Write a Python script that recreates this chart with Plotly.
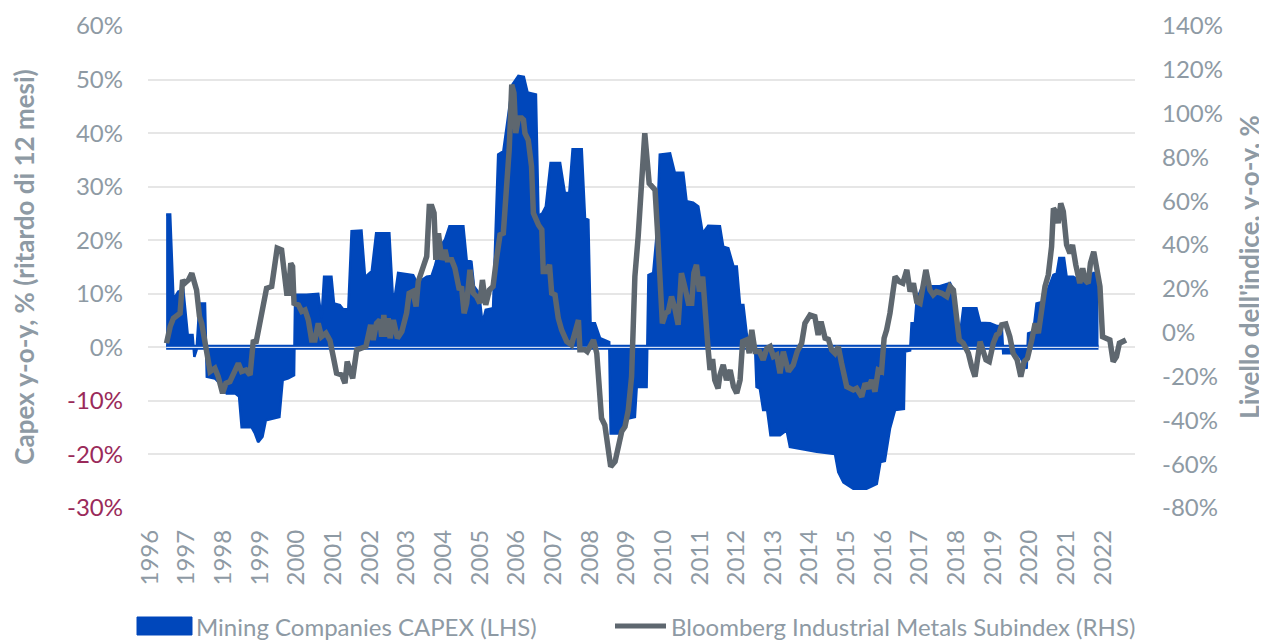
import plotly.graph_objects as go

# ---------------- data (decimal years) ----------------
capex_t = [1996.44, 1996.55, 1996.64, 1996.77, 1996.91, 1997.03, 1997.16, 1997.21, 1997.27, 1997.35,
           1997.50, 1997.55, 1997.77, 1997.91, 1998.09, 1998.32, 1998.43, 1998.50, 1998.77, 1998.86,
           1998.95, 1999.07, 1999.16, 1999.53, 1999.62, 1999.77, 1999.93, 1999.96, 2000.27, 2000.59,
           2000.68, 2000.75, 2000.95, 2001.02, 2001.18, 2001.27, 2001.41, 2001.50, 2001.77, 2001.87,
           2001.93, 2002.05, 2002.17, 2002.53, 2002.62, 2002.68, 2002.77, 2003.18, 2003.29, 2003.41,
           2003.55, 2003.68, 2003.77, 2003.91, 2004.05, 2004.17, 2004.55, 2004.64, 2004.77, 2004.84,
           2004.98, 2005.07, 2005.16, 2005.36, 2005.50, 2005.64, 2005.77, 2005.89, 2006.05, 2006.20,
           2006.30, 2006.53, 2006.60, 2006.71, 2006.80, 2006.93, 2007.19, 2007.32, 2007.44, 2007.53,
           2007.78, 2007.87, 2007.96, 2008.02, 2008.14, 2008.28, 2008.53, 2008.57, 2008.82, 2008.91,
           2009.05, 2009.23, 2009.28, 2009.55, 2009.60, 2009.73, 2009.82, 2009.91, 2010.19, 2010.32,
           2010.55, 2010.64, 2010.82, 2010.96, 2011.08, 2011.23, 2011.55, 2011.64, 2011.78, 2011.92,
           2012.01, 2012.10, 2012.19, 2012.28, 2012.37, 2012.51, 2012.55, 2012.64, 2012.73, 2012.84,
           2012.93, 2013.19, 2013.37, 2013.46, 2013.92, 2014.19, 2014.69, 2014.78, 2014.92, 2015.19,
           2015.55, 2015.83, 2015.93, 2016.05, 2016.19, 2016.33, 2016.57, 2016.60, 2016.74, 2016.78,
           2016.87, 2016.92, 2017.03, 2017.19, 2017.55, 2017.69, 2017.83, 2017.92, 2018.01, 2018.10,
           2018.19, 2018.55, 2018.65, 2018.92, 2019.10, 2019.24, 2019.28, 2019.65, 2019.74, 2019.92,
           2019.96, 2020.10, 2020.19, 2020.37, 2020.51, 2020.65, 2020.74, 2020.81, 2020.94, 2021.01,
           2021.19, 2021.33, 2021.65, 2021.74, 2021.88]
capex_v = [24.8, 24.8, 8.9, 10.4, 10.7, 2.3, 2.3, -1.8, -0.5, 8.2,
           8.2, -5.5, -5.8, -6.8, -8.6, -8.6, -9.2, -14.9, -14.9, -16.0,
           -17.7, -16.7, -13.6, -13.0, -6.1, -5.8, -5.2, 9.8, 9.8, 10.0,
           5.4, 13.2, 13.2, 8.2, 7.9, 7.1, 7.1, 21.7, 21.8, 12.9,
           13.5, 14.2, 21.3, 21.3, 10.1, 9.5, 13.9, 13.5, 12.0, 12.6,
           13.2, 13.3, 15.1, 18.8, 20.1, 22.6, 22.6, 16.3, 16.0, 11.4,
           10.1, 4.5, 7.0, 7.3, 36.0, 36.6, 43.2, 49.1, 50.7, 50.5,
           47.6, 47.2, 24.5, 25.1, 26.3, 34.4, 34.4, 28.8, 28.8, 37.0,
           37.0, 24.1, 23.8, 4.5, 4.5, 1.7, 1.0, -16.1, -16.1, -14.9,
           -13.3, -13.0, -7.4, -7.4, 13.5, 13.9, 20.7, 36.0, 36.2, 32.6,
           32.6, 27.3, 27.0, 26.3, 21.3, 22.7, 22.6, 18.8, 18.5, 15.1,
           15.1, 7.9, 7.9, 2.6, 0.7, -0.2, -7.4, -7.7, -11.7, -11.7,
           -16.4, -16.4, -15.5, -18.6, -19.2, -19.5, -19.9, -23.3, -25.2, -26.4,
           -26.4, -25.5, -21.4, -21.2, -15.2, -11.7, -11.5, -0.8, -0.6, 4.5,
           4.5, 8.9, 10.7, 11.4, 11.4, 11.7, 12.0, 10.7, 3.9, 2.3,
           7.3, 7.3, 4.6, 4.5, 4.0, 4.0, -1.1, -1.1, -1.8, -4.0,
           2.6, 2.9, 8.2, 8.5, 11.0, 13.5, 13.8, 16.7, 16.7, 13.2,
           13.2, 12.6, 12.6, 13.9, 13.9]

metals_t = [1996.45, 1996.55, 1996.64, 1996.82, 1996.89, 1996.95, 1997.05, 1997.14, 1997.27, 1997.35,
            1997.41, 1997.55, 1997.64, 1997.77, 1997.86, 1997.98, 1998.07, 1998.18, 1998.41, 1998.50,
            1998.62, 1998.73, 1998.82, 1998.89, 1998.98, 1999.18, 1999.32, 1999.47, 1999.59, 1999.73,
            1999.78, 1999.84, 1999.89, 1999.93, 2000.05, 2000.14, 2000.23, 2000.32, 2000.41, 2000.50,
            2000.59, 2000.68, 2000.80, 2000.91, 2001.00, 2001.09, 2001.23, 2001.32, 2001.38, 2001.46,
            2001.53, 2001.64, 2001.77, 2001.89, 2002.02, 2002.09, 2002.18, 2002.27, 2002.32, 2002.38,
            2002.44, 2002.50, 2002.55, 2002.64, 2002.75, 2002.87, 2003.00, 2003.07, 2003.17, 2003.26,
            2003.32, 2003.46, 2003.55, 2003.62, 2003.69, 2003.75, 2003.80, 2003.87, 2003.96, 2004.05,
            2004.11, 2004.23, 2004.32, 2004.44, 2004.50, 2004.57, 2004.64, 2004.73, 2004.82, 2004.91,
            2005.00, 2005.07, 2005.16, 2005.26, 2005.36, 2005.45, 2005.55, 2005.64, 2005.73, 2005.80,
            2005.87, 2005.93, 2005.98, 2006.05, 2006.14, 2006.19, 2006.23, 2006.32, 2006.41, 2006.46,
            2006.60, 2006.69, 2006.73, 2006.82, 2006.90, 2006.96, 2007.05, 2007.14, 2007.23, 2007.37,
            2007.50, 2007.57, 2007.69, 2007.73, 2007.87, 2007.93, 2008.10, 2008.19, 2008.28, 2008.32,
            2008.41, 2008.48, 2008.57, 2008.69, 2008.78, 2008.87, 2008.96, 2009.05, 2009.14, 2009.23,
            2009.32, 2009.41, 2009.50, 2009.62, 2009.71, 2009.78, 2009.84, 2009.91, 2009.98, 2010.07,
            2010.14, 2010.23, 2010.32, 2010.41, 2010.50, 2010.59, 2010.69, 2010.78, 2010.84, 2010.91,
            2010.99, 2011.08, 2011.14, 2011.23, 2011.28, 2011.35, 2011.41, 2011.50, 2011.55, 2011.64,
            2011.73, 2011.83, 2011.92, 2012.01, 2012.10, 2012.17, 2012.28, 2012.35, 2012.42, 2012.51,
            2012.63, 2012.73, 2012.83, 2012.92, 2013.01, 2013.10, 2013.19, 2013.28, 2013.42, 2013.55,
            2013.66, 2013.78, 2013.87, 2014.01, 2014.14, 2014.23, 2014.31, 2014.42, 2014.51, 2014.60,
            2014.69, 2014.78, 2014.87, 2015.01, 2015.10, 2015.19, 2015.28, 2015.42, 2015.51, 2015.60,
            2015.69, 2015.78, 2015.87, 2015.96, 2016.03, 2016.10, 2016.19, 2016.33, 2016.44, 2016.54,
            2016.65, 2016.74, 2016.83, 2016.92, 2017.01, 2017.10, 2017.17, 2017.28, 2017.37, 2017.46,
            2017.60, 2017.74, 2017.83, 2017.92, 2018.01, 2018.08, 2018.19, 2018.33, 2018.42, 2018.51,
            2018.65, 2018.74, 2018.81, 2018.90, 2019.01, 2019.10, 2019.17, 2019.24, 2019.35, 2019.46,
            2019.55, 2019.66, 2019.76, 2019.85, 2019.94, 2020.06, 2020.15, 2020.24, 2020.33, 2020.42,
            2020.51, 2020.60, 2020.65, 2020.71, 2020.78, 2020.85, 2020.92, 2021.01, 2021.10, 2021.17,
            2021.26, 2021.37, 2021.45, 2021.51, 2021.60, 2021.66, 2021.75, 2021.85, 2021.92, 2021.99,
            2022.10, 2022.19, 2022.28, 2022.37, 2022.45, 2022.54, 2022.63]
metals_v = [-4.8, 2.8, 6.6, 8.9, 24.1, 22.6, 24.1, 27.2, 19.5, 7.4,
            4.3, -9.4, -17.7, -16.2, -20.0, -27.6, -23.1, -22.3, -14.0, -17.7,
            -17.0, -19.3, -3.3, -4.8, 2.8, 20.3, 21.1, 38.6, 37.8, 18.0,
            18.0, 31.7, 30.2, 13.4, 12.7, 9.7, 10.4, 5.8, -3.3, -3.3,
            4.3, -1.8, -0.2, -3.5, -10.9, -18.5, -19.3, -23.0, -13.2, -17.0,
            -20.8, -7.8, -7.1, -6.3, 3.6, -3.3, 4.3, 5.8, -1.8, 8.1,
            -1.8, 6.6, -2.5, 5.8, -2.5, 0.5, 8.9, 18.0, 18.8, 12.0,
            23.4, 30.2, 34.8, 57.6, 57.6, 54.6, 33.3, 45.4, 33.3, 37.8,
            33.3, 33.3, 29.4, 19.5, 21.1, 8.9, 13.5, 28.7, 18.0, 16.5,
            13.5, 24.1, 12.7, 19.5, 21.1, 33.3, 44.7, 45.4, 63.7, 83.5,
            113.2, 109.4, 91.1, 98.0, 98.0, 97.2, 91.1, 88.0, 75.9, 54.6,
            49.2, 47.0, 27.9, 27.9, 31.0, 18.0, 17.3, 6.6, 1.3, -4.0,
            -5.6, -1.8, 5.8, -7.8, -7.8, -8.6, -3.3, -9.4, -27.6, -39.0,
            -42.1, -50.5, -61.1, -58.8, -52.0, -45.1, -42.9, -35.3, -20.0, 25.6,
            43.9, 68.2, 91.1, 68.2, 66.7, 65.2, 48.5, 28.7, 4.3, 8.9,
            9.7, 16.5, 11.2, 3.6, 27.2, 21.1, 13.5, 13.5, 27.2, 31.0,
            18.8, 25.6, 8.9, -7.8, -17.0, -12.0, -21.6, -25.4, -19.3, -14.7,
            -21.6, -17.0, -24.6, -27.6, -21.6, -4.1, -3.3, -9.4, 1.3, -8.6,
            -8.6, -12.4, -7.1, -6.3, -10.9, -10.1, -18.5, -8.6, -17.7, -14.7,
            -8.6, -4.8, 4.3, 8.1, 7.4, -1.0, 5.1, -2.5, -3.0, -7.9,
            -9.4, -6.3, -14.0, -24.6, -25.4, -26.1, -25.4, -29.2, -23.1, -25.4,
            -21.6, -26.9, -17.0, -17.7, -2.5, 1.3, 8.9, 25.6, 23.4, 22.6,
            28.7, 18.8, 22.6, 14.2, 13.4, 22.6, 28.7, 19.5, 17.3, 18.8,
            18.0, 16.5, 21.1, 19.5, 5.8, -3.3, -4.8, -9.4, -15.5, -20.0,
            -4.1, -7.9, -12.4, -13.2, -4.8, -1.0, -0.2, 3.6, 4.0, -1.8,
            -9.4, -12.4, -20.0, -13.2, -11.7, -3.3, 4.3, -0.2, 11.9, 21.1,
            26.4, 39.3, 56.8, 55.3, 50.0, 59.1, 55.3, 40.1, 36.3, 40.1,
            31.0, 22.6, 29.4, 24.1, 22.6, 31.7, 37.0, 25.6, 21.1, -1.8,
            -2.5, -3.3, -13.2, -10.9, -4.8, -4.1, -3.3]

years = list(range(1996, 2023))
left_ticks = [60, 50, 40, 30, 20, 10, 0, -10, -20, -30]
right_ticks = [140, 120, 100, 80, 60, 40, 20, 0, -20, -40, -60, -80]
series_names = ["Mining Companies CAPEX (LHS)", "Bloomberg Industrial Metals Subindex (RHS)"]

# ---------------- styles ----------------
BLUE = "#0047BB"
GREY_LINE = "#5E676F"
TXT = "#8E9AA4"
NEG = "#9A2A5A"
FONT = "Lato"
OFF = 8                      # default page margin of the html body
W, H = 1267 - OFF, 643 - OFF
# plot area in page pixels: x 148..1135, y 26..508
ML, MT = 148 - OFF, 26 - OFF
MR, MB = W - (1135 - OFF), H - (508 - OFF)
PW, PH = W - ML - MR, H - MT - MB


def px(x):  # page pixel -> paper
    return (x - OFF - ML) / PW


def py(y):
    return (H - MB - (y - OFF)) / PH


left_text = [f'<span style="color:{NEG}">{v}%</span>' if v < 0 else f"{v}%" for v in left_ticks]
right_text = [f"{v}%" for v in right_ticks]

fig = go.Figure()

fig.add_trace(go.Scatter(
    x=capex_t, y=capex_v, mode="lines", fill="tozeroy",
    line=dict(color=BLUE, width=2.5), fillcolor=BLUE,
    name=series_names[0], yaxis="y", hoverinfo="skip", showlegend=False))

# baseline band of the area
fig.add_trace(go.Scatter(
    x=[capex_t[0], capex_t[-1]], y=[0, 0], mode="lines",
    line=dict(color=BLUE, width=5), showlegend=False, hoverinfo="skip"))
fig.add_trace(go.Scatter(
    x=[capex_t[0], capex_t[-1]], y=[0, 0], mode="lines",
    line=dict(color="white", width=1), showlegend=False, hoverinfo="skip"))

fig.add_trace(go.Scatter(
    x=metals_t, y=metals_v, mode="lines",
    line=dict(color=GREY_LINE, width=5.5),
    name=series_names[1], yaxis="y2", hoverinfo="skip", showlegend=False))

# ---------------- legend (drawn manually for Excel-like keys) ----------------
LEG_Y = 626
shapes = [
    dict(type="rect", xref="paper", yref="paper", x0=px(137), x1=px(192),
         y0=py(LEG_Y + 9), y1=py(LEG_Y - 9),
         fillcolor=BLUE, line=dict(color=BLUE, width=1)),
    dict(type="line", xref="paper", yref="paper", x0=px(615), x1=px(666),
         y0=py(LEG_Y), y1=py(LEG_Y), line=dict(color=GREY_LINE, width=5)),
]
annotations = [
    dict(xref="paper", yref="paper", x=px(194), y=py(LEG_Y), xanchor="left", yanchor="middle",
         text=series_names[0], showarrow=False, font=dict(family=FONT, size=24, color=TXT)),
    dict(xref="paper", yref="paper", x=px(669), y=py(LEG_Y), xanchor="left", yanchor="middle",
         text=series_names[1], showarrow=False, font=dict(family=FONT, size=24, color=TXT)),
]

fig.update_layout(
    template="none",
    width=W, height=H,
    margin=dict(l=ML, r=MR, t=MT, b=MB, autoexpand=False),
    paper_bgcolor="white", plot_bgcolor="white",
    font=dict(family=FONT, size=24, color=TXT),
    showlegend=False,
    shapes=shapes, annotations=annotations,
    xaxis=dict(range=[1995.945, 2022.876], tickvals=years, ticktext=[str(y) for y in years],
               tickangle=-90, showgrid=False, zeroline=False, showline=False, automargin=False,
               ticks="", ticklabelstandoff=16, tickfont=dict(size=24, color=TXT)),
    yaxis=dict(range=[-30, 60], tickvals=left_ticks, ticktext=left_text, automargin=False,
               showgrid=True, gridcolor="#E6E6E6", gridwidth=1.5, zeroline=False, showline=False,
               ticks="", ticklabelstandoff=24, tickfont=dict(size=24, color=TXT),
               title=dict(text="<b>Capex y-o-y, % (ritardo di 12 mesi)</b>",
                          font=dict(size=26, color=TXT), standoff=28)),
    yaxis2=dict(range=[-80, 140], tickvals=right_ticks, ticktext=right_text, automargin=False,
                overlaying="y", side="right", showgrid=False, zeroline=False, showline=False,
                ticks="", ticklabelstandoff=26, tickfont=dict(size=24, color=TXT),
                title=dict(text="<b>Livello dell'indice, y-o-y, %</b>",
                           font=dict(size=26, color=TXT), standoff=18)),
)

fig.write_html("out.html")
